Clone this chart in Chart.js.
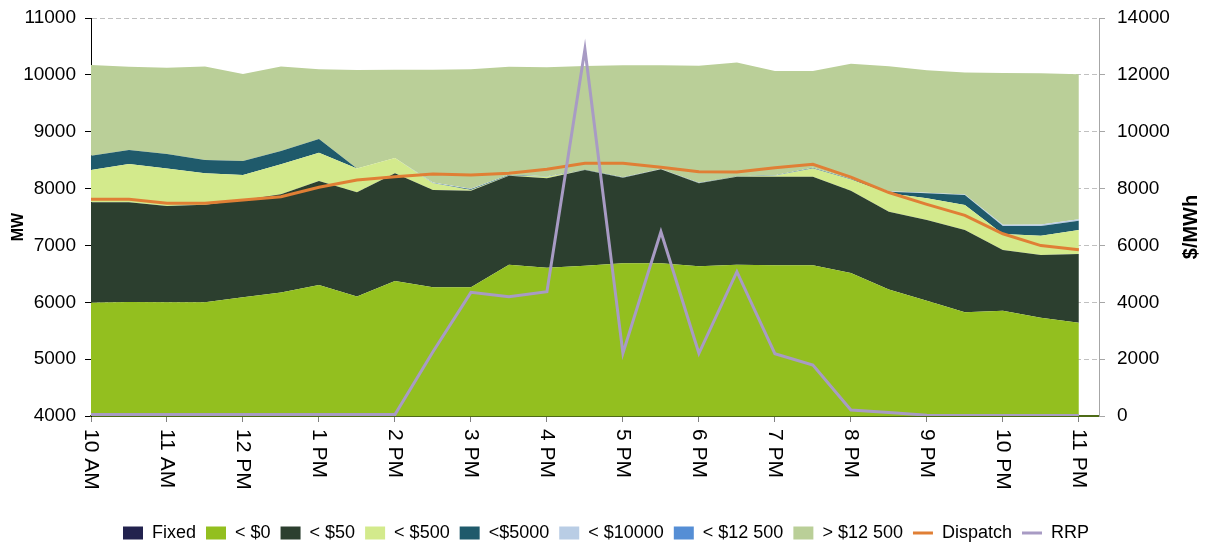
<!DOCTYPE html>
<html>
<head>
<meta charset="utf-8">
<script src="https://cdn.jsdelivr.net/npm/chart.js@4.4.1/dist/chart.umd.min.js"></script>
<style>
    html, body { margin: 0; padding: 0; background: #fff; }
</style>
</head>
<body>
<canvas id="myChartOferta" width="1212" height="547"></canvas>
<script>
// half-hour intervals, 10:00 to 23:00
var times = ['10:00', '10:30', '11:00', '11:30', '12:00', '12:30', '13:00', '13:30', '14:00',
    '14:30', '15:00', '15:30', '16:00', '16:30', '17:00', '17:30', '18:00', '18:30', '19:00',
    '19:30', '20:00', '20:30', '21:00', '21:30', '22:00', '22:30', '23:00'];
var hourLabels = ['10 AM', '11 AM', '12 PM', '1 PM', '2 PM', '3 PM', '4 PM', '5 PM', '6 PM',
    '7 PM', '8 PM', '9 PM', '10 PM', '11 PM'];
var mwTicks = [4000, 5000, 6000, 7000, 8000, 9000, 10000, 11000];
var priceTicks = [0, 2000, 4000, 6000, 8000, 10000, 12000, 14000];

// MW offered in each price band (stacked)
var fixed = [0, 0, 0, 0, 0, 0, 0, 0, 0, 0, 0, 0, 0, 0, 0, 0, 0, 0, 0, 0, 0, 0, 0, 0, 0, 0, 0];
var below0 = [5992, 6005, 6000, 6000, 6088, 6170, 6304, 6100, 6374, 6263, 6263, 6662, 6608, 6643,
    6685, 6685, 6632, 6662, 6650, 6650, 6515, 6225, 6028, 5825, 5850, 5730, 5640];
var below50 = [1766, 1753, 1693, 1716, 1711, 1729, 1829, 1834, 1894, 1712, 1700, 1564, 1572, 1683,
    1506, 1653, 1460, 1547, 1559, 1559, 1445, 1368, 1419, 1446, 1070, 1100, 1210];
var below500 = [568, 674, 662, 552, 439, 527, 498, 421, 269, 117, 12, 6, 29, 0,
    0, 0, 3, 3, 16, 146, 200, 323, 381, 440, 281, 341, 421];
var below5000 = [253, 246, 253, 234, 247, 235, 241, 0, 0, 8, 15, 8, 3, 4,
    4, 2, 5, 3, 5, 7, 10, 29, 88, 176, 141, 171, 165];
var below10000 = [0, 0, 0, 0, 0, 0, 0, 0, 0, 5, 5, 5, 3, 3,
    3, 3, 3, 3, 3, 3, 3, 10, 10, 10, 20, 25, 25];
var below12500 = [0, 0, 0, 0, 0, 0, 0, 0, 0, 0, 0, 0, 0, 0, 0, 0, 0, 0, 0, 0, 0, 0, 0, 0, 0, 0, 0];
var above12500 = [1594, 1465, 1518, 1647, 1530, 1488, 1225, 1730, 1554, 1986, 2105, 1898, 1917, 1822,
    1969, 1824, 2058, 2001, 1834, 1702, 2022, 2195, 2154, 2143, 2671, 2660, 2549];

var dispatch = [7811, 7811, 7740, 7740, 7799, 7858, 8023, 8151, 8210, 8256, 8238, 8268, 8338, 8444,
    8444, 8373, 8297, 8291, 8367, 8426, 8200, 7930, 7722, 7530, 7205, 6997, 6925];
// $/MWh
var rrp = [50, 50, 50, 50, 50, 50, 50, 50, 50, 2262, 4350, 4197, 4373, 12900,
    2205, 6483, 2205, 5076, 2190, 1794, 211, 120, 30, 20, 20, 20, 20];

Chart.defaults.font.family = '"Liberation Sans", Arial, sans-serif';
Chart.defaults.color = '#000';

function bandDataset(label, data, color, fill) {
    return {
        label: label,
        data: data,
        backgroundColor: color,
        borderColor: color,
        borderWidth: 0,
        fill: fill,
        pointRadius: 0,
        pointStyle: 'rect',
        yAxisID: 'y',
        stack: 'bands'
    };
}

function plainNumber(value) {
    return String(value);
}

function fixWidth(width) {
    return function (scale) {
        scale.width = width;
        scale.paddingTop = 0;
        scale.paddingBottom = 0;
    };
}

// x labels read top-to-bottom, axis titles drawn by hand
var axisTextPlugin = {
    id: 'axisText',
    afterLayout: function (chart) {
        chart.legend.top += 5;
        chart.legend.bottom += 5;
    },
    afterDraw: function (chart) {
        var ctx = chart.ctx;
        var area = chart.chartArea;
        var xScale = chart.scales.x;
        ctx.save();
        ctx.fillStyle = '#000';
        ctx.font = '21px "Liberation Sans", Arial, sans-serif';
        ctx.textAlign = 'left';
        ctx.textBaseline = 'middle';
        hourLabels.forEach(function (label, k) {
            var x = xScale.getPixelForValue(k * 2);
            ctx.save();
            ctx.translate(x, area.bottom + 13);
            ctx.rotate(Math.PI / 2);
            ctx.fillText(label, 0, 0);
            ctx.restore();
        });

        var midY = (area.top + area.bottom) / 2 + 10;
        ctx.textAlign = 'center';
        [[19, 'MW', 16], [chart.width - 21, '$/MWh', 20]].forEach(function (t) {
            ctx.save();
            ctx.font = 'bold ' + t[2] + 'px "Liberation Sans", Arial, sans-serif';
            ctx.translate(t[0], midY);
            ctx.rotate(-Math.PI / 2);
            ctx.fillText(t[1], 0, 0);
            ctx.restore();
        });
        ctx.restore();
    }
};

function initializeChartOferta() {
    var ctx = document.getElementById('myChartOferta').getContext('2d');
    var myChart = new Chart(ctx, {
        type: 'line',
        data: {
            labels: times.map(function (t, i) { return i; }),
            datasets: [
                bandDataset('Fixed', fixed, '#22224e', 'origin'),
                bandDataset('< $0', below0, '#93bf1f', '-1'),
                bandDataset('< $50', below50, '#2c3f2f', '-1'),
                bandDataset('< $500', below500, '#d3ea8c', '-1'),
                bandDataset('<$5000', below5000, '#1f5a6b', '-1'),
                bandDataset('< $10000', below10000, '#b9cde5', '-1'),
                bandDataset('< $12 500', below12500, '#558ed5', '-1'),
                bandDataset('> $12 500', above12500, '#bacf98', '-1'),
                {
                    label: 'Dispatch',
                    data: dispatch,
                    borderColor: '#e07f35',
                    backgroundColor: '#e07f35',
                    borderWidth: 3,
                    fill: false,
                    pointRadius: 0,
                    pointStyle: 'line',
                    yAxisID: 'y',
                    stack: 'dispatch',
                    order: -1
                },
                {
                    label: 'RRP',
                    data: rrp,
                    borderColor: '#a89bc4',
                    backgroundColor: '#a89bc4',
                    borderWidth: 3,
                    fill: false,
                    pointRadius: 0,
                    pointStyle: 'line',
                    yAxisID: 'y1',
                    order: -2
                }
            ]
        },
        options: {
            responsive: false,
            animation: false,
            layout: { padding: { top: 18, left: 0, right: 0, bottom: 0 } },
            scales: {
                x: {
                    type: 'linear',
                    min: 0,
                    max: times.length - 1 + 0.53,
                    ticks: { display: false, stepSize: 2, includeBounds: false },
                    grid: { drawOnChartArea: false, tickLength: 6, tickColor: '#808080' },
                    border: { color: '#4e6b16', width: 2 },
                    afterFit: function (scale) { scale.height = 93; }
                },
                y: {
                    position: 'left',
                    stacked: true,
                    min: mwTicks[0],
                    max: mwTicks[mwTicks.length - 1],
                    ticks: { stepSize: 1000, padding: 9, font: { size: 19 }, callback: plainNumber },
                    grid: { color: '#c0c0c0', tickColor: '#000', tickLength: 6 },
                    border: { color: '#000', width: 1, dash: [5, 3] },
                    afterFit: fixWidth(91)
                },
                y1: {
                    position: 'right',
                    min: priceTicks[0],
                    max: priceTicks[priceTicks.length - 1],
                    ticks: { stepSize: 2000, padding: 12, font: { size: 19 }, callback: plainNumber },
                    grid: { drawOnChartArea: false, tickColor: '#a6a6a6', tickLength: 6 },
                    border: { color: '#a6a6a6', width: 1 },
                    afterFit: fixWidth(113)
                }
            },
            plugins: {
                legend: {
                    position: 'bottom',
                    labels: {
                        usePointStyle: true,
                        pointStyleWidth: 20,
                        boxHeight: 13,
                        padding: 10,
                        font: { size: 18 },
                        sort: function (a, b) { return a.datasetIndex - b.datasetIndex; }
                    }
                },
                tooltip: { enabled: false }
            }
        },
        plugins: [axisTextPlugin]
    });
    return myChart;
}

initializeChartOferta();
</script>
</body>
</html>
